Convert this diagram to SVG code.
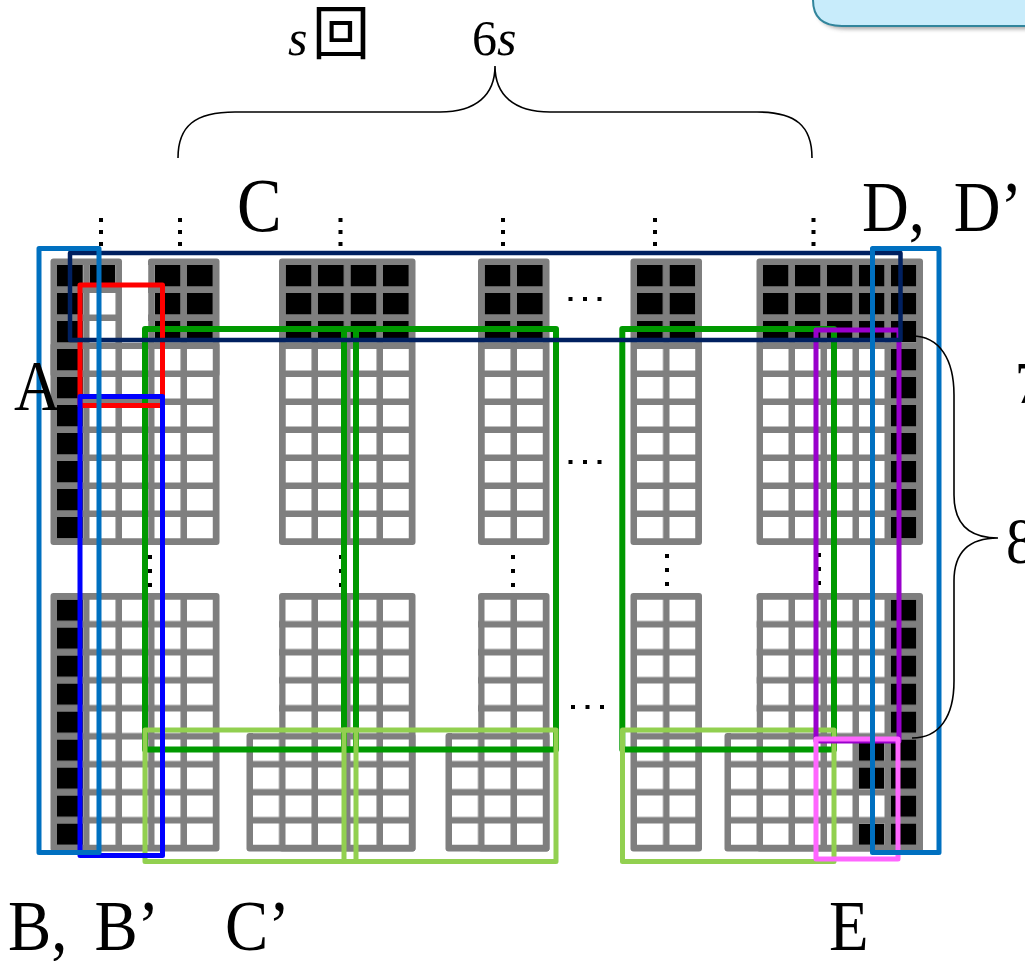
<svg xmlns="http://www.w3.org/2000/svg" width="1025" height="961" viewBox="0 0 1025 961">
<style>
.g{fill:#7f7f7f}
.fr{fill:none;stroke-linejoin:round}
.d{fill:#000}
.t{font-family:"Liberation Serif","Times New Roman",serif;fill:#000}
.br{fill:none;stroke:#000;stroke-width:1.6}
</style>
<defs>
<pattern id="wA" patternUnits="userSpaceOnUse" width="32.5" height="28"><rect width="26" height="21.5" fill="#fff"/></pattern>
<pattern id="kA" patternUnits="userSpaceOnUse" width="32.5" height="28"><rect width="26" height="21.5" fill="#000"/></pattern>
<pattern id="wB" patternUnits="userSpaceOnUse" width="32" height="28"><rect width="25.5" height="21.5" fill="#fff"/></pattern>
<pattern id="kB" patternUnits="userSpaceOnUse" width="32" height="28"><rect width="25.5" height="21.5" fill="#000"/></pattern>
<filter id="sh" x="-10%" y="-50%" width="130%" height="200%"><feGaussianBlur stdDeviation="2"/></filter>
</defs>
<rect width="1025" height="961" fill="#fff"/>

<g id="callout">
<path d="M816,-10 L816,2 Q816,29 846,29 L1030,29 L1030,-10 Z" fill="#666" opacity="0.6" filter="url(#sh)"/>
<path d="M813,-10 L813,0 Q813,26 842,26 L1030,26 L1030,-10 Z" fill="#c8ecfb" stroke="#31859c" stroke-width="2"/>
</g>

<g id="block1-top" transform="translate(57,265)">
<rect class="g" x="-6.5" y="-6.5" width="71.5" height="118.5" rx="3"/>
<rect class="g" x="91" y="-6.5" width="71.5" height="118.5" rx="3"/>
<rect class="g" x="-6.5" y="77.5" width="169" height="202.5" rx="3"/>
<rect fill="url(#wA)" width="156" height="273.5"/>
<rect fill="url(#kA)" width="26" height="273.5"/>
<rect fill="url(#kA)" x="32.5" width="26" height="21.5"/>
<rect fill="url(#kA)" x="97.5" width="58.5" height="77.5"/>
</g>
<g id="block1-bottom" transform="translate(57,599.5)">
<rect class="g" x="-6.5" y="-6.5" width="169" height="258.5" rx="3"/>
<rect fill="url(#wA)" width="156" height="245.5"/>
<rect fill="url(#kA)" width="26" height="245.5"/>
</g>
<g id="block2-top" transform="translate(285.5,265)">
<rect class="g" x="-6.5" y="-6.5" width="136.5" height="286.5" rx="3"/>
<rect fill="url(#wA)" width="123.5" height="273.5"/>
<rect fill="url(#kA)" width="123.5" height="77.5"/>
</g>
<g id="block2-bottom" transform="translate(285.5,599.5)">
<rect class="g" x="-6.5" y="-6.5" width="136.5" height="258.5" rx="3"/>
<rect class="g" x="-39" y="133.5" width="169" height="118.5" rx="3"/>
<rect fill="url(#wA)" x="-32.5" width="156" height="245.5"/>
</g>
<g id="block3-top" transform="translate(484.5,265)">
<rect class="g" x="-6.5" y="-6.5" width="71.5" height="286.5" rx="3"/>
<rect fill="url(#wA)" width="58.5" height="273.5"/>
<rect fill="url(#kA)" width="58.5" height="77.5"/>
</g>
<g id="block3-bottom" transform="translate(484.5,599.5)">
<rect class="g" x="-6.5" y="-6.5" width="71.5" height="258.5" rx="3"/>
<rect class="g" x="-39" y="133.5" width="104" height="118.5" rx="3"/>
<rect fill="url(#wA)" x="-32.5" width="91" height="245.5"/>
</g>
<g id="block4-top" transform="translate(637,265)">
<rect class="g" x="-6.5" y="-6.5" width="71.5" height="286.5" rx="3"/>
<rect fill="url(#wA)" width="58.5" height="273.5"/>
<rect fill="url(#kA)" width="58.5" height="77.5"/>
</g>
<g id="block4-bottom" transform="translate(637,599.5)">
<rect class="g" x="-6.5" y="-6.5" width="71.5" height="258.5" rx="3"/>
<rect fill="url(#wA)" width="58.5" height="245.5"/>
</g>
<g id="block5-top" transform="translate(763,265)">
<rect class="g" x="-6.5" y="-6.5" width="166.5" height="286.5" rx="3"/>
<rect fill="url(#wB)" width="153.5" height="273.5"/>
<rect fill="url(#kB)" width="153.5" height="77.5"/>
<rect fill="url(#kB)" x="128" y="84" width="25.5" height="189.5"/>
</g>
<g id="block5-bottom" transform="translate(763,599.5)">
<rect class="g" x="-6.5" y="-6.5" width="166.5" height="258.5" rx="3"/>
<rect class="g" x="-38.5" y="133.5" width="198.5" height="118.5" rx="3"/>
<rect fill="url(#wB)" x="-32" width="185.5" height="245.5"/>
<rect fill="url(#kB)" x="128" width="25.5" height="245.5"/>
<rect fill="url(#kB)" x="96" y="140" width="25.5" height="49.5"/>
<rect fill="url(#kB)" x="96" y="224" width="25.5" height="21.5"/>
</g>

<g id="dots">
<rect class="d" x="99" y="218" width="4" height="4"/><rect class="d" x="99" y="230" width="4" height="4"/><rect class="d" x="99" y="242" width="4" height="4"/>
<rect class="d" x="178" y="218" width="4" height="4"/><rect class="d" x="178" y="230" width="4" height="4"/><rect class="d" x="178" y="242" width="4" height="4"/>
<rect class="d" x="338.5" y="218" width="4" height="4"/><rect class="d" x="338.5" y="230" width="4" height="4"/><rect class="d" x="338.5" y="242" width="4" height="4"/>
<rect class="d" x="501" y="218" width="4" height="4"/><rect class="d" x="501" y="230" width="4" height="4"/><rect class="d" x="501" y="242" width="4" height="4"/>
<rect class="d" x="653" y="218" width="4" height="4"/><rect class="d" x="653" y="230" width="4" height="4"/><rect class="d" x="653" y="242" width="4" height="4"/>
<rect class="d" x="811.5" y="218" width="4" height="4"/><rect class="d" x="811.5" y="230" width="4" height="4"/><rect class="d" x="811.5" y="242" width="4" height="4"/>
<rect class="d" x="148" y="555" width="4" height="4"/><rect class="d" x="148" y="569" width="4" height="4"/><rect class="d" x="148" y="583" width="4" height="4"/>
<rect class="d" x="339" y="555" width="4" height="4"/><rect class="d" x="339" y="569" width="4" height="4"/><rect class="d" x="339" y="583" width="4" height="4"/>
<rect class="d" x="511" y="555" width="4" height="4"/><rect class="d" x="511" y="569" width="4" height="4"/><rect class="d" x="511" y="583" width="4" height="4"/>
<rect class="d" x="665" y="554" width="4" height="4"/><rect class="d" x="665" y="568" width="4" height="4"/><rect class="d" x="665" y="582" width="4" height="4"/>
<rect class="d" x="817" y="553" width="4" height="4"/><rect class="d" x="817" y="567" width="4" height="4"/><rect class="d" x="817" y="581" width="4" height="4"/>
<rect class="d" x="568.5" y="297" width="4" height="4"/><rect class="d" x="583" y="297" width="4" height="4"/><rect class="d" x="597.5" y="297" width="4" height="4"/>
<rect class="d" x="568.5" y="460" width="4" height="4"/><rect class="d" x="583" y="460" width="4" height="4"/><rect class="d" x="597.5" y="460" width="4" height="4"/>
<rect class="d" x="571" y="705" width="4" height="4"/><rect class="d" x="585.5" y="705" width="4" height="4"/><rect class="d" x="600" y="705" width="4" height="4"/>
</g>

<g id="frames">
<rect class="fr" x="145" y="329" width="211" height="420.5" stroke="#009900" stroke-width="6"/>
<rect class="fr" x="344" y="329" width="212" height="420.5" stroke="#009900" stroke-width="6"/>
<rect class="fr" x="622.3" y="329" width="211.7" height="420.5" stroke="#009900" stroke-width="6"/>
<rect class="fr" x="145" y="730" width="211" height="131.5" stroke="#92d050" stroke-width="5"/>
<rect class="fr" x="344" y="730" width="212" height="131.5" stroke="#92d050" stroke-width="5"/>
<rect class="fr" x="622.5" y="730" width="211.5" height="131.5" stroke="#92d050" stroke-width="5"/>
<rect class="fr" x="80" y="285" width="82.5" height="120.5" stroke="#ff0000" stroke-width="5"/>
<rect class="fr" x="80" y="396.5" width="82.5" height="459" stroke="#0000ff" stroke-width="5"/>
<rect class="fr" x="816" y="330" width="83" height="411" stroke="#9900cc" stroke-width="5"/>
<rect class="fr" x="816" y="739" width="82" height="120" stroke="#ff66ff" stroke-width="5"/>
<rect class="fr" x="70" y="253" width="830.5" height="87" stroke="#002060" stroke-width="4.5"/>
<rect class="fr" x="39" y="248.5" width="60" height="604" stroke="#0070c0" stroke-width="5"/>
<rect class="fr" x="872.5" y="248.5" width="66.5" height="604" stroke="#0070c0" stroke-width="5"/>
</g>

<g id="connectors">
<path class="br" d="M178,158 C178,126 195,112 235,112 L440,112 C476,112 495,95 495,66 C495,95 514,112 550,112 L757,112 C796,112 812,126 812,158"/>
<path class="br" d="M912,336 C940,336 954,360 954,395 L954,495 C954,525 970,538 998,538 C970,538 954,551 954,581 L954,681 C954,716 940,738 912,738"/>
</g>

<g id="labels">
<text class="t" x="288" y="55" font-size="50" font-style="italic">s</text>
<text x="312" y="54" font-size="58" font-family="'Noto Sans CJK JP','Noto Sans CJK SC',sans-serif">回</text>
<text class="t" x="472" y="55" font-size="50">6<tspan font-style="italic">s</tspan></text>
<text class="t" transform="translate(237,231) scale(0.88,1)" font-size="76">C</text>
<text class="t" transform="translate(862,231) scale(0.9,1)" font-size="72">D, <tspan dx="14">D’</tspan></text>
<text class="t" transform="translate(14,410) scale(0.9,1)" font-size="72">A</text>
<text class="t" transform="translate(1015,403) scale(0.9,1)" font-size="60">7</text>
<text class="t" transform="translate(1006,563) scale(0.9,1)" font-size="66">8</text>
<text class="t" transform="translate(8,950) scale(0.9,1)" font-size="72">B, <tspan dx="12">B’</tspan></text>
<text class="t" transform="translate(225,950) scale(0.9,1)" font-size="72">C’</text>
<text class="t" transform="translate(829,950) scale(0.9,1)" font-size="72">E</text>
</g>
</svg>
